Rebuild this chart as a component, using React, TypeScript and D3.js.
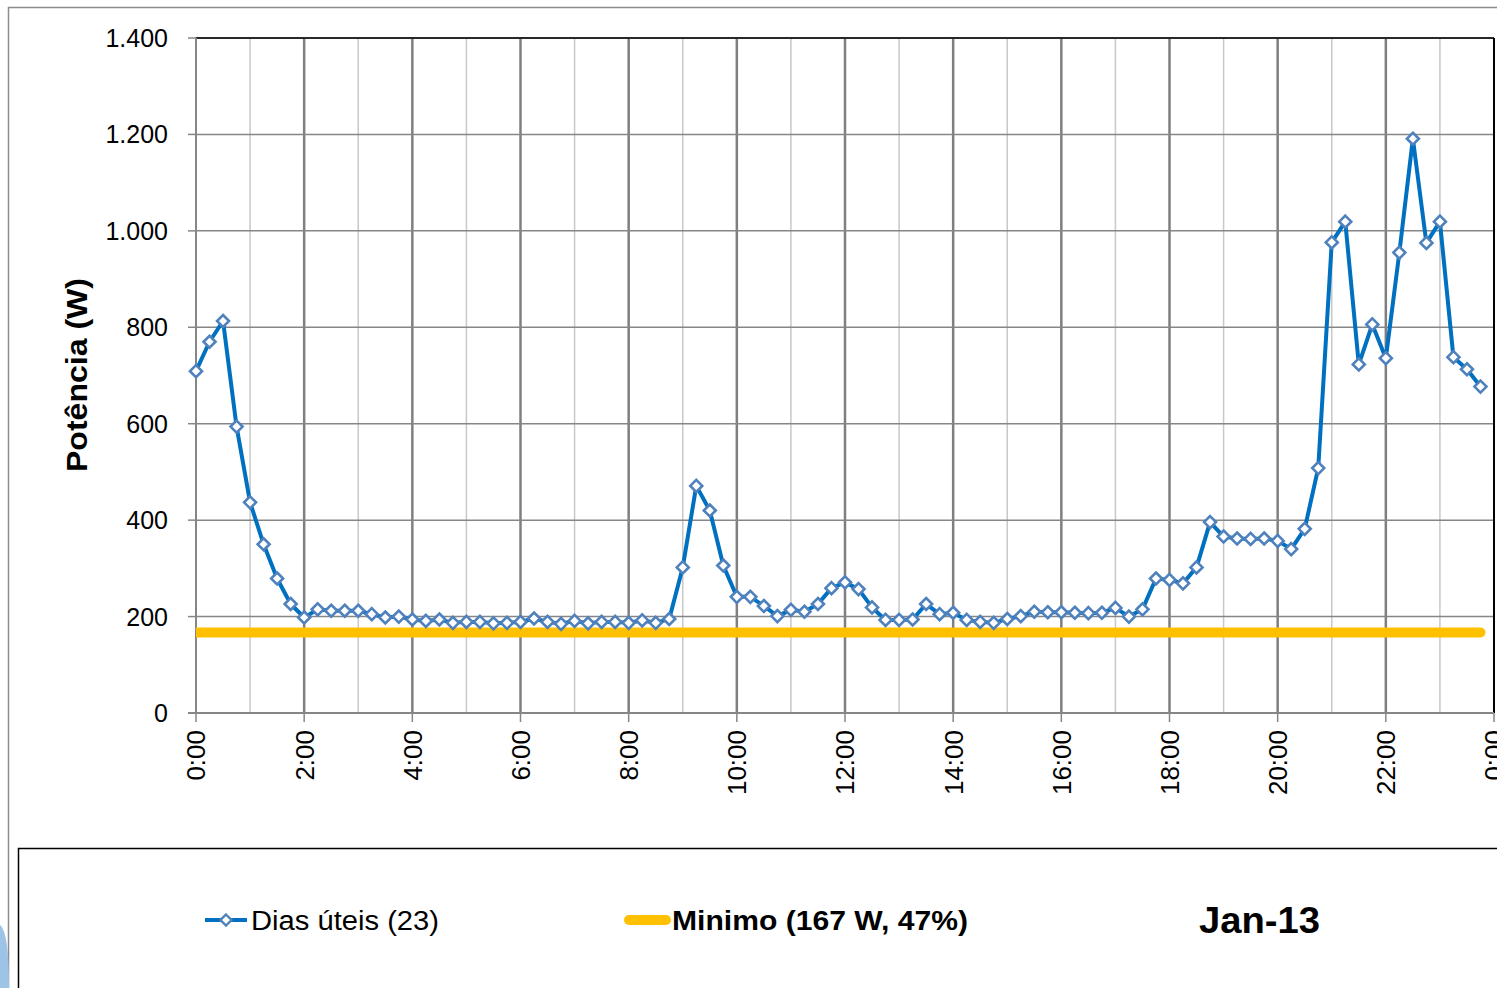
import React from 'react';
import * as d3 from 'd3';

// potência média em dias úteis, intervalos de 15 min (0:00 .. 23:45)
const potencia = [
  709, 770, 813, 594, 437, 350, 279, 226,
  198, 215, 212, 212, 212, 205, 198, 200,
  194, 191, 194, 187, 189, 189, 186, 187,
  189, 196, 189, 185, 191, 186, 189, 189,
  187, 192, 187, 195, 302, 471, 420, 306,
  241, 241, 222, 201, 214, 210, 226, 259,
  271, 257, 219, 193, 193, 194, 226, 205,
  208, 193, 189, 187, 195, 201, 210, 209,
  209, 208, 207, 208, 218, 200, 215, 279,
  276, 269, 302, 396, 366, 362, 361, 362,
  357, 340, 382, 508, 976, 1019, 723, 806,
  736, 955, 1191, 975, 1019, 738, 713, 677,
];
const minimo = 167;
const yTicks = [0, 200, 400, 600, 800, 1000, 1200, 1400];
const xTicks = [0, 2, 4, 6, 8, 10, 12, 14, 16, 18, 20, 22, 24];
const legendLabels = ['Dias úteis (23)', 'Minimo (167 W, 47%)'];
const periodo = 'Jan-13';

const fmtY = (v: number) => (v >= 1000 ? d3.format(',')(v).replace(',', '.') : String(v));
const fmtX = (h: number) => `${h % 24}:00`;

const App = () => {
  const Width = 1497;
  const Height = 988;
  const plot = { left: 196, right: 1494, top: 38, bottom: 713 };

  const x = d3.scaleLinear().domain([0, 24]).range([plot.left, plot.right]);
  const y = d3.scaleLinear().domain([0, 1400]).range([plot.bottom, plot.top]);

  const pts = potencia.map((v, i) => ({ t: i * 0.25, v }));
  const line = d3.line<{ t: number; v: number }>().x((d) => x(d.t)).y((d) => y(d.v));
  const minLine = d3.line<{ t: number; v: number }>().x((d) => x(d.t)).y(() => y(minimo));

  const diamond = (cx: number, cy: number, r: number) =>
    `M${cx},${cy - r}L${cx + r},${cy}L${cx},${cy + r}L${cx - r},${cy}Z`;

  const font = "'Liberation Sans', Arial, sans-serif";
  const hours = d3.range(1, 24);

  return (
    <svg width={Width} height={Height} style={{ position: 'absolute', left: 0, top: 0, background: '#fff' }}>
      <defs>
        <clipPath id="plotClip">
          <rect x={plot.left} y={plot.top} width={plot.right - plot.left} height={plot.bottom - plot.top} />
        </clipPath>
      </defs>

      {/* moldura externa */}
      <path d={`M8.5,${Height}V7.5H${Width}`} fill="none" stroke="#8c8c8c" strokeWidth={1.5} />
      <path d="M0,925 C6,930 9,950 9,988 L0,988 Z" fill="#9dc3e6" />

      {/* grelha vertical */}
      {hours.map((h) => (
        <line key={h} x1={x(h)} x2={x(h)} y1={plot.top} y2={plot.bottom}
          stroke={h % 2 === 0 ? '#7f7f7f' : '#c8c8c8'} strokeWidth={h % 2 === 0 ? 2.5 : 1.5} />
      ))}
      {/* grelha horizontal */}
      {yTicks.slice(1).map((v) => (
        <line key={v} x1={plot.left} x2={plot.right} y1={y(v)} y2={y(v)} stroke="#868686" strokeWidth={1.5} />
      ))}
      <line x1={plot.left} x2={plot.right} y1={plot.top} y2={plot.top} stroke="#000" strokeWidth={1.5} />
      <line x1={plot.right} x2={plot.right} y1={plot.top} y2={plot.bottom} stroke="#000" strokeWidth={2} />

      {/* eixos */}
      <line x1={plot.left} x2={plot.left} y1={plot.top} y2={plot.bottom} stroke="#868686" strokeWidth={2} />
      <line x1={plot.left - 8} x2={plot.right} y1={plot.bottom} y2={plot.bottom} stroke="#868686" strokeWidth={2} />
      {yTicks.map((v) => (
        <g key={v}>
          <line x1={plot.left - 8} x2={plot.left} y1={y(v)} y2={y(v)} stroke="#868686" strokeWidth={1.5} />
          <text x={168} y={y(v)} dy="0.36em" textAnchor="end" fontFamily={font} fontSize={25} fill="#000">
            {fmtY(v)}
          </text>
        </g>
      ))}
      {xTicks.map((h) => (
        <g key={h}>
          <line x1={x(h)} x2={x(h)} y1={plot.bottom} y2={plot.bottom + 9} stroke="#868686" strokeWidth={1.5} />
          <text transform={`translate(${x(h)}, 730) rotate(-90)`} dy="0.36em" textAnchor="end"
            fontFamily={font} fontSize={26} fill="#000">
            {fmtX(h)}
          </text>
        </g>
      ))}
      <text transform="translate(77, 375) rotate(-90)" dy="0.36em" textAnchor="middle"
        fontFamily={font} fontSize={29} fontWeight="bold" textLength={194} lengthAdjust="spacingAndGlyphs">
        Potência (W)
      </text>

      {/* séries */}
      <g clipPath="url(#plotClip)">
        <path d={minLine([{ t: 0, v: minimo }, { t: 23.75, v: minimo }]) || ''} fill="none"
          stroke="#ffc000" strokeWidth={10} strokeLinecap="round" />
      </g>
      <path d={line(pts) || ''} fill="none" stroke="#0070c0" strokeWidth={4} strokeLinejoin="round" />
      {pts.map((d, i) => (
        <path key={i} d={diamond(x(d.t), y(d.v), 6)} fill="#fff" stroke="#4f81bd" strokeWidth={2.6} />
      ))}

      {/* legenda */}
      <rect x={18.5} y={848.5} width={Width} height={Height} fill="none" stroke="#000" strokeWidth={1.5} />
      <line x1={205} x2={247} y1={920} y2={920} stroke="#0070c0" strokeWidth={4} />
      <path d={diamond(226, 920, 5.5)} fill="#fff" stroke="#4f81bd" strokeWidth={2.4} />
      <text x={251} y={920} dy="0.36em" fontFamily={font} fontSize={27} fill="#000"
        textLength={188} lengthAdjust="spacingAndGlyphs">{legendLabels[0]}</text>
      <line x1={629} x2={666} y1={920} y2={920} stroke="#ffc000" strokeWidth={10} strokeLinecap="round" />
      <text x={672} y={920} dy="0.36em" fontFamily={font} fontSize={27} fontWeight="bold" fill="#000"
        textLength={296} lengthAdjust="spacingAndGlyphs">{legendLabels[1]}</text>
      <text x={1199} y={920} dy="0.36em" fontFamily={font} fontSize={37} fontWeight="bold" fill="#000"
        textLength={121} lengthAdjust="spacingAndGlyphs">{periodo}</text>
    </svg>
  );
};

export default App;
